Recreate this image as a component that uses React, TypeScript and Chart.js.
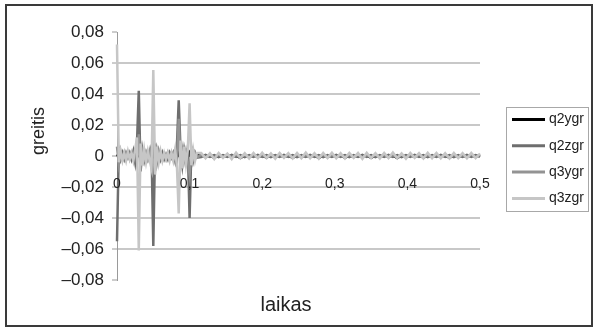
import React, { useEffect, useRef } from "react";
import { Chart, registerables } from "chart.js";
Chart.register(...registerables);

const seriesNames = ["q2ygr", "q2zgr", "q3ygr", "q3zgr"];
const seriesColors = ["#000000", "#6e6e6e", "#939393", "#c6c6c6"];

const timeBurst = [0, 0.0025, 0.005, 0.0075, 0.01, 0.0125, 0.015, 0.0175, 0.02, 0.0225, 0.025, 0.0275, 0.03, 0.0325, 0.035, 0.0375, 0.04, 0.0425, 0.045, 0.0475, 0.05, 0.0525, 0.055, 0.0575, 0.06, 0.0625, 0.065, 0.0675, 0.07, 0.0725, 0.075, 0.0775, 0.08, 0.0825, 0.085, 0.0875, 0.09, 0.0925, 0.095, 0.0975, 0.1, 0.1025, 0.105, 0.1075, 0.11];
const timeTail = [0.116, 0.122, 0.128, 0.134, 0.14, 0.146, 0.152, 0.158, 0.164, 0.17,
  0.176, 0.182, 0.188, 0.194, 0.2, 0.206, 0.212, 0.218, 0.224, 0.23,
  0.236, 0.242, 0.248, 0.254, 0.26, 0.266, 0.272, 0.278, 0.284, 0.29,
  0.296, 0.302, 0.308, 0.314, 0.32, 0.326, 0.332, 0.338, 0.344, 0.35,
  0.356, 0.362, 0.368, 0.374, 0.38, 0.386, 0.392, 0.398, 0.404, 0.41,
  0.416, 0.422, 0.428, 0.434, 0.44, 0.446, 0.452, 0.458, 0.464, 0.47,
  0.476, 0.482, 0.488, 0.494, 0.5];

const q2ygrBurst = [0.001, -0.001, 0.0005, -0.001, 0.0005, -0.0005, 0.001, -0.001, 0.0005, -0.002, 0.001, -0.001, 0.002, -0.001, 0.001, -0.0005, 0.0005, -0.001, 0.0005, -0.001, 0.002, -0.001, 0.001, -0.0005, 0.0005, -0.001, 0.0005, -0.0005, 0.001, -0.0005, 0.0005, -0.001, 0.001, -0.001, 0.002, -0.001, 0.001, -0.0005, 0.0005, -0.001, 0.002, -0.001, 0.0005, -0.0005, 0.0005];
const q2zgrBurst = [-0.055, 0.004, -0.002, 0.002, -0.002, 0.002, -0.001, 0.002, -0.002, 0.003, -0.004, 0.008, 0.042, -0.01, 0.004, -0.003, 0.002, -0.002, 0.002, 0.006, -0.058, 0.008, -0.004, 0.003, -0.002, 0.002, -0.002, 0.001, -0.002, 0.002, -0.001, 0.002, -0.003, 0.006, 0.036, 0.004, -0.006, 0.004, -0.003, 0.005, -0.04, 0.006, -0.003, 0.002, -0.001];
const q3ygrBurst = [0.006, -0.005, 0.003, -0.002, 0.002, -0.002, 0.002, -0.002, 0.001, -0.002, 0.003, -0.004, 0.014, -0.006, 0.003, -0.002, 0.002, -0.002, 0.003, -0.005, 0.01, -0.006, 0.004, -0.002, 0.002, -0.002, 0.001, -0.002, 0.002, -0.001, 0.002, -0.002, 0.003, -0.004, 0.024, -0.008, 0.004, -0.003, 0.003, -0.004, -0.012, 0.005, -0.002, 0.002, -0.001];
const q3zgrBurst = [0.072, -0.004, 0.003, -0.003, 0.002, -0.003, 0.003, -0.002, 0.002, -0.003, 0.004, 0.012, -0.061, 0.008, -0.006, 0.004, -0.004, 0.003, -0.003, -0.008, 0.0555, -0.012, 0.006, -0.004, 0.003, -0.003, 0.002, -0.002, 0.002, -0.003, 0.002, -0.003, 0.004, -0.006, -0.037, 0.01, -0.008, 0.006, -0.005, 0.004, 0.034, -0.006, 0.004, -0.003, 0.002];

const q2ygrTail = [0.0004, -0.0005, 0.0003, -0.0012, 0.0004, -0.0004, 0.0005, -0.0004, 0.0003, -0.0013,
  0.0004, -0.0005, 0.0004, -0.0004, 0.0003, -0.0011, 0.0005, -0.0004, 0.0004, -0.0005,
  0.0003, -0.0012, 0.0004, -0.0004, 0.0005, -0.0004, 0.0004, -0.0013, 0.0003, -0.0005,
  0.0004, -0.0004, 0.0005, -0.0011, 0.0004, -0.0004, 0.0003, -0.0005, 0.0004, -0.0012,
  0.0004, -0.0004, 0.0005, -0.0004, 0.0003, -0.0013, 0.0004, -0.0005, 0.0004, -0.0004,
  0.0005, -0.0011, 0.0003, -0.0004, 0.0004, -0.0005, 0.0004, -0.0012, 0.0005, -0.0004,
  0.0003, -0.0004, 0.0004, -0.0005, 0.0004];
const q2zgrTail = [-0.0006, 0.0007, -0.0005, 0.0006, -0.0007, 0.0005, -0.0006, 0.0007, -0.0005, 0.0006,
  -0.0007, 0.0005, -0.0006, 0.0007, -0.0005, 0.0006, -0.0007, 0.0005, -0.0006, 0.0007,
  -0.0005, 0.0006, -0.0007, 0.0005, -0.0006, 0.0007, -0.0005, 0.0006, -0.0007, 0.0005,
  -0.0006, 0.0007, -0.0005, 0.0006, -0.0007, 0.0005, -0.0006, 0.0007, -0.0005, 0.0006,
  -0.0007, 0.0005, -0.0006, 0.0007, -0.0005, 0.0006, -0.0007, 0.0005, -0.0006, 0.0007,
  -0.0005, 0.0006, -0.0007, 0.0005, -0.0006, 0.0007, -0.0005, 0.0006, -0.0007, 0.0005,
  -0.0006, 0.0007, -0.0005, 0.0006, -0.0005];
const q3ygrTail = [0.0008, -0.0009, 0.0007, -0.0008, 0.0009, -0.0007, 0.0008, -0.0009, 0.0008, -0.0007,
  0.0007, -0.0008, 0.0009, -0.0007, 0.0008, -0.0009, 0.0007, -0.0008, 0.0008, -0.0007,
  0.0009, -0.0008, 0.0008, -0.0009, 0.0007, -0.0008, 0.0008, -0.0007, 0.0009, -0.0008,
  0.0007, -0.0009, 0.0008, -0.0007, 0.0008, -0.0008, 0.0009, -0.0008, 0.0007, -0.0008,
  0.0008, -0.0007, 0.0009, -0.0008, 0.0007, -0.0008, 0.0008, -0.0009, 0.0008, -0.0007,
  0.0009, -0.0008, 0.0007, -0.0008, 0.0008, -0.0007, 0.0009, -0.0008, 0.0008, -0.0009,
  0.0007, -0.0008, 0.0008, -0.0007, 0.0008];
const q3zgrTail = [0.002, -0.0015, 0.0018, -0.002, 0.002, -0.0012, 0.0016, -0.002, 0.0022, -0.0014,
  0.0018, -0.0016, 0.002, -0.0015, 0.0021, -0.0013, 0.0017, -0.0018, 0.002, -0.0012,
  0.0019, -0.0016, 0.002, -0.0014, 0.0022, -0.0015, 0.0018, -0.0017, 0.002, -0.0013,
  0.0021, -0.0015, 0.0018, -0.0016, 0.002, -0.0012, 0.0019, -0.0018, 0.0021, -0.0014,
  0.0018, -0.0016, 0.002, -0.0013, 0.0022, -0.0015, 0.0017, -0.0017, 0.002, -0.0012,
  0.0019, -0.0016, 0.0021, -0.0014, 0.002, -0.0015, 0.0018, -0.0016, 0.002, -0.0013,
  0.0019, -0.0015, 0.002, -0.0014, 0.0016];

const yTicks = [-0.08, -0.06, -0.04, -0.02, 0, 0.02, 0.04, 0.06, 0.08];
const yTickLabels = ["–0,08", "–0,06", "–0,04", "–0,02", "0", "0,02", "0,04", "0,06", "0,08"];
const xTicks = [0, 0.1, 0.2, 0.3, 0.4, 0.5];
const xTickLabels = ["0", "0,1", "0,2", "0,3", "0,4", "0,5"];

const xTitle = "laikas";
const yTitle = "greitis";

const FONT = '"Liberation Sans", Arial, sans-serif';

const times = [...timeBurst, ...timeTail];
const seriesValues = [
  [...q2ygrBurst, ...q2ygrTail],
  [...q2zgrBurst, ...q2zgrTail],
  [...q3ygrBurst, ...q3ygrTail],
  [...q3zgrBurst, ...q3zgrTail],
];

const decorPlugin = {
  id: "decor",
  beforeDatasetsDraw(chart: any) {
    const { ctx, scales } = chart;
    const xs = scales.x;
    const ys = scales.y;
    const y0 = Math.round(ys.getPixelForValue(0)) + 0.5;
    ctx.save();
    ctx.strokeStyle = "#9a9a9a";
    ctx.lineWidth = 1;
    ctx.beginPath();
    ctx.moveTo(xs.getPixelForValue(0), y0);
    ctx.lineTo(xs.getPixelForValue(0.5), y0);
    ctx.stroke();
    ctx.restore();
  },
  afterDraw(chart: any) {
    const { ctx, scales } = chart;
    const xs = scales.x;
    const ys = scales.y;
    const y0 = ys.getPixelForValue(0);
    ctx.save();
    ctx.fillStyle = "#222";
    ctx.font = `14px ${FONT}`;
    ctx.textAlign = "center";
    ctx.textBaseline = "middle";
    xTicks.forEach((v, i) => {
      ctx.fillText(xTickLabels[i], xs.getPixelForValue(v), y0 + 28);
    });
    ctx.font = `20px ${FONT}`;
    ctx.fillText(xTitle, 286, 305);
    ctx.save();
    ctx.translate(39, 131);
    ctx.rotate(-Math.PI / 2);
    ctx.font = `18px ${FONT}`;
    ctx.fillText(yTitle, 0, 0);
    ctx.restore();
    ctx.strokeStyle = "#a8a8a8";
    ctx.lineWidth = 1;
    ctx.strokeRect(506.5, 107.5, 82, 104);
    ctx.font = `14px ${FONT}`;
    ctx.textAlign = "left";
    chart.data.datasets.forEach((ds: any, i: number) => {
      const ly = 119.5 + i * 26.3;
      ctx.strokeStyle = ds.borderColor;
      ctx.lineWidth = 3;
      ctx.beginPath();
      ctx.moveTo(512, ly);
      ctx.lineTo(545, ly);
      ctx.stroke();
      ctx.fillStyle = "#222";
      ctx.fillText(ds.label, 549, ly);
    });
    ctx.strokeStyle = "#3a3a3a";
    ctx.lineWidth = 2;
    ctx.strokeRect(6, 5, 586, 321);
    ctx.restore();
  },
};

export default function App() {
  const ref = useRef<HTMLCanvasElement | null>(null);
  useEffect(() => {
    document.body.style.margin = "0";
    const canvas = ref.current;
    if (!canvas) return;
    const datasets = seriesNames.map((name, i) => ({
      label: name,
      data: times.map((t, k) => ({ x: t, y: seriesValues[i][k] })),
      borderColor: seriesColors[i],
      backgroundColor: seriesColors[i],
      borderWidth: 2.5,
      pointRadius: 0,
      tension: 0,
      clip: 4,
      order: seriesNames.length - i,
    }));
    const chart = new Chart(canvas, {
      type: "line",
      data: { datasets },
      options: {
        animation: false,
        responsive: false,
        devicePixelRatio: 1,
        layout: { padding: { left: 0, top: 32, right: 115, bottom: 49 } },
        plugins: { legend: { display: false }, tooltip: { enabled: false } },
        scales: {
          x: { type: "linear", min: 0, max: 0.5, display: false },
          y: {
            type: "linear",
            min: -0.08,
            max: 0.08,
            afterBuildTicks: (scale: any) => {
              scale.ticks = yTicks.map((v) => ({ value: v }));
            },
            afterFit: (scale: any) => {
              scale.width = 117;
            },
            ticks: {
              padding: 8,
              color: "#222",
              font: { family: FONT, size: 17 },
              callback: (v: any) => {
                const idx = yTicks.findIndex((t) => Math.abs(t - Number(v)) < 1e-9);
                return idx >= 0 ? yTickLabels[idx] : "";
              },
            },
            grid: {
              color: (c: any) => {
                const v = c.tick ? c.tick.value : 0;
                if (Math.abs(v) > 0.079 || Math.abs(v) < 1e-9) return "rgba(0,0,0,0)";
                return "#c8c8c8";
              },
              lineWidth: 2,
              drawTicks: true,
              tickLength: 5,
              tickColor: "#9a9a9a",
              tickWidth: 1,
            },
            border: { display: true, color: "#9a9a9a", width: 1 },
          },
        },
      },
      plugins: [decorPlugin],
    } as any);
    return () => chart.destroy();
  }, []);
  return (
    <div style={{ width: 595, height: 329, position: "relative", background: "#fff" }}>
      <canvas ref={ref} width={595} height={329} style={{ display: "block" }} />
    </div>
  );
}
